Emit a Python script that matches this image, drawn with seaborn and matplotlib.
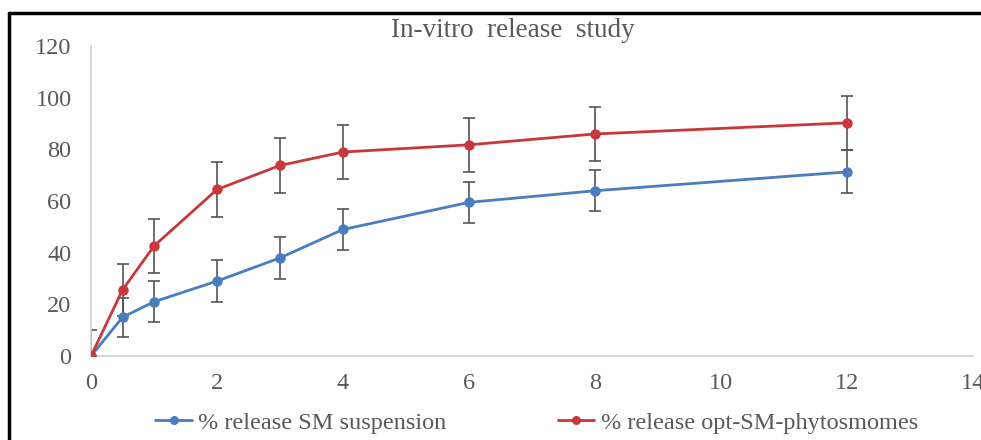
import seaborn as sns
import matplotlib.pyplot as plt
import pandas as pd
from matplotlib.lines import Line2D

# data
time_h = [0, 0.5, 1, 2, 3, 4, 6, 8, 12]
susp = [0, 15, 21, 29, 38, 49, 59.5, 64, 71.3]
susp_err = [0, 7.5, 8, 8, 8, 8, 8, 8, 8.3]
phyto = [0, 25.6, 42.6, 64.5, 73.8, 79, 81.8, 86, 90.3]
phyto_err = [10, 10, 10.5, 10.5, 10.5, 10.5, 10.4, 10.3, 10.5]

label_susp = "% release SM suspension"
label_phyto = "% release opt-SM-phytosmomes"
blue = "#4A7CC0"
red = "#C8383A"
grey = "#595959"

df = pd.DataFrame({
    "time": time_h * 2,
    "release": susp + phyto,
    "series": [label_susp] * len(time_h) + [label_phyto] * len(time_h),
})

sns.set_style("white")
plt.rcParams["font.family"] = ["Liberation Serif", "DejaVu Serif"]

fig = plt.figure(figsize=(9.81, 4.40), dpi=100)
ax = fig.add_axes([0.0928, 0.191, 0.899, 0.704])

# error bars first so lines/markers sit on top
ax.errorbar(time_h, susp, yerr=susp_err, fmt="none", ecolor="#555555",
            elinewidth=1.2, capsize=4, capthick=1.2, zorder=2)
ax.errorbar(time_h, phyto, yerr=phyto_err, fmt="none", ecolor="#555555",
            elinewidth=1.2, capsize=4, capthick=1.2, zorder=2)

sns.lineplot(data=df, x="time", y="release", hue="series",
             palette={label_susp: blue, label_phyto: red},
             marker="o", markersize=7.5, markeredgewidth=0, linewidth=2,
             ax=ax, zorder=3, legend=False)

ax.set_xlim(0, 14)
ax.set_ylim(0, 120)
ax.set_xticks(range(0, 15, 2))
ax.set_yticks(range(0, 121, 20))
ax.tick_params(axis="both", length=0, labelsize=17.5, labelcolor=grey)
ax.tick_params(axis="y", pad=14)
ax.tick_params(axis="x", pad=12)
ax.set_xlabel("")
ax.set_ylabel("")

for side in ["top", "right"]:
    ax.spines[side].set_visible(False)
for side in ["left", "bottom"]:
    ax.spines[side].set_color("#D0D0D0")
    ax.spines[side].set_linewidth(1.2)

fig.text(0.523, 0.93, "In-vitro  release  study", ha="center", va="center",
         fontsize=19.5, color=grey)

handles = [
    Line2D([], [], color=blue, marker="o", markersize=6.5, lw=2, markeredgewidth=0),
    Line2D([], [], color=red, marker="o", markersize=6.5, lw=2, markeredgewidth=0),
]
fig.legend(handles, [label_susp, label_phyto], loc="center",
           bbox_to_anchor=(0.547, 0.039), ncol=2, frameon=False,
           fontsize=17.5, labelcolor=grey, handlelength=1.5,
           handletextpad=0.25, columnspacing=4.6)

# black border remnants at top and left
fig.add_artist(Line2D([9 / 981, 1], [1 - 13 / 440, 1 - 13 / 440],
                      transform=fig.transFigure, color="black", lw=2.5))
fig.add_artist(Line2D([9 / 981, 9 / 981], [0, 1 - 13 / 440],
                      transform=fig.transFigure, color="black", lw=2.5))

fig.savefig("out.png", dpi=100)
